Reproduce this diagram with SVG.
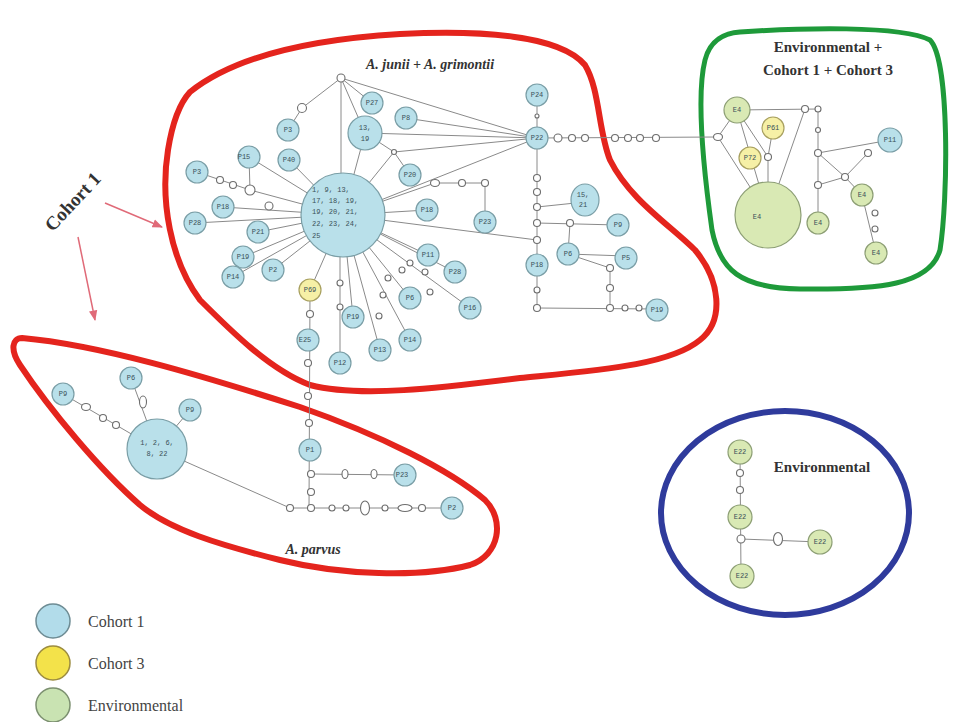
<svg xmlns="http://www.w3.org/2000/svg" width="954" height="722" viewBox="0 0 954 722">
<defs>
<marker id="ah" viewBox="0 0 10 10" refX="9" refY="5" markerWidth="7" markerHeight="7" orient="auto-start-reverse"><path d="M0,1 L10,5 L0,9 z" fill="#e06a78"/></marker>
<style>
.c1{fill:#b9e0ea;stroke:#7a9ea6;stroke-width:1.2}
.c3{fill:#f6f0a6;stroke:#a8a060;stroke-width:1.2}
.env{fill:#d9e9b4;stroke:#8c9e74;stroke-width:1.2}
.s{fill:#fff;stroke:#6e6e6e;stroke-width:1.1}
.e line{stroke:#8a8a8a;stroke-width:1}
.l{font-family:"Liberation Mono",monospace;font-size:7px;fill:#3a5058;text-anchor:middle;dominant-baseline:central}
.t{font-family:"Liberation Serif",serif;font-weight:bold;fill:#333;text-anchor:middle}
.lg{font-family:"Liberation Serif",serif;font-size:16px;fill:#444}
.red{fill:none;stroke:#e4241d;stroke-width:6}
</style>
</defs>
<rect width="954" height="722" fill="#fff"/>
<g id="outlines">
<path class="red" d="M190,92 C230,60 300,40 400,34 C480,30 560,35 585,65 C600,90 598,130 610,160 C630,200 670,225 695,250 C720,280 725,320 700,340 C670,365 600,370 520,378 C440,388 360,398 310,385 C270,370 230,330 200,300 C170,260 160,200 168,150 C172,125 178,105 190,92 Z"/>
<path class="red" d="M22,338 C100,345 200,375 300,407 C380,435 450,470 485,500 C505,520 500,555 470,565 C420,578 340,575 280,560 C220,545 170,530 140,505 C100,470 50,410 20,365 C10,350 12,338 22,338 Z"/>
<path fill="none" stroke="#1e9a3a" stroke-width="5" d="M740,32 C800,28 900,25 930,40 C950,60 948,200 940,250 C930,285 880,290 800,289 C740,288 720,270 712,230 C705,180 695,100 705,60 C710,40 725,33 740,32 Z"/>
<ellipse cx="785" cy="513" rx="124" ry="102" fill="none" stroke="#2f3b9c" stroke-width="6"/>
</g>
<g id="labels">
<text class="t" x="430" y="69" font-size="14" font-style="italic">A. junii + A. grimontii</text>
<text class="t" x="313" y="554" font-size="14" font-style="italic">A. parvus</text>
<text class="t" x="828" y="52" font-size="15">Environmental  +</text>
<text class="t" x="828" y="75" font-size="15">Cohort 1 + Cohort 3</text>
<text class="t" x="822" y="472" font-size="15">Environmental</text>
<text class="t" x="73" y="208" font-size="19" transform="rotate(-47 73 202)">Cohort 1</text>
</g>
<g id="arrows" stroke="#e06a78" stroke-width="1.5" fill="none">
<line x1="105" y1="203" x2="162" y2="227" marker-end="url(#ah)"/>
<line x1="78" y1="237" x2="95" y2="320" marker-end="url(#ah)"/>
</g>
<g id="connectors" class="e">
<line x1="341" y1="78" x2="302" y2="108"/><line x1="302" y1="108" x2="288" y2="130"/>
<line x1="341" y1="78" x2="341" y2="215"/><line x1="341" y1="78" x2="372" y2="103"/>
<line x1="341" y1="78" x2="365" y2="133"/><line x1="341" y1="78" x2="537" y2="138"/>
<line x1="406" y1="118" x2="537" y2="138"/><line x1="365" y1="133" x2="537" y2="138"/>
<line x1="394" y1="152" x2="537" y2="138"/><line x1="343" y1="215" x2="537" y2="138"/>
<line x1="365" y1="133" x2="394" y2="152"/><line x1="394" y1="152" x2="410" y2="175"/>
<line x1="394" y1="152" x2="343" y2="215"/><line x1="365" y1="133" x2="343" y2="215"/>
<line x1="289" y1="160" x2="343" y2="215"/><line x1="249" y1="157" x2="343" y2="215"/>
<line x1="249" y1="157" x2="250" y2="190"/>
<line x1="197" y1="172" x2="250" y2="190"/><line x1="250" y1="190" x2="343" y2="215"/>
<line x1="223" y1="207" x2="343" y2="215"/><line x1="195" y1="223" x2="343" y2="215"/>
<line x1="258" y1="232" x2="343" y2="215"/><line x1="243" y1="257" x2="343" y2="215"/>
<line x1="233" y1="277" x2="343" y2="215"/><line x1="273" y1="270" x2="343" y2="215"/>
<line x1="343" y1="215" x2="310" y2="290"/><line x1="310" y1="290" x2="309" y2="508"/>
<line x1="311" y1="474" x2="405" y2="475"/>
<line x1="157" y1="449" x2="290" y2="508"/><line x1="290" y1="508" x2="452" y2="508"/>
<line x1="343" y1="215" x2="427" y2="210"/>
<line x1="343" y1="215" x2="435" y2="183"/><line x1="435" y1="183" x2="485" y2="183"/><line x1="485" y1="183" x2="485" y2="222"/>
<line x1="343" y1="215" x2="537" y2="240"/>
<line x1="343" y1="215" x2="428" y2="255"/>
<line x1="343" y1="215" x2="455" y2="272"/>
<line x1="343" y1="215" x2="470" y2="308"/>
<line x1="343" y1="215" x2="410" y2="298"/>
<line x1="343" y1="215" x2="410" y2="340"/>
<line x1="343" y1="215" x2="380" y2="350"/>
<line x1="343" y1="215" x2="353" y2="317"/>
<line x1="340" y1="215" x2="340" y2="363"/>
<line x1="537" y1="95" x2="537" y2="308"/>
<line x1="537" y1="138" x2="718" y2="137"/>
<line x1="537" y1="207" x2="585" y2="202"/>
<line x1="537" y1="223" x2="618" y2="225"/>
<line x1="570" y1="223" x2="568" y2="254"/>
<line x1="568" y1="254" x2="626" y2="256"/>
<line x1="568" y1="254" x2="610" y2="268"/>
<line x1="610" y1="268" x2="610" y2="308"/>
<line x1="537" y1="308" x2="657" y2="309"/>
<line x1="63" y1="394" x2="157" y2="449"/>
<line x1="131" y1="378" x2="157" y2="449"/>
<line x1="190" y1="410" x2="157" y2="449"/>
<line x1="737" y1="110" x2="718" y2="137"/><line x1="718" y1="137" x2="768" y2="215"/>
<line x1="737" y1="110" x2="818" y2="109"/><line x1="805" y1="109" x2="768" y2="215"/>
<line x1="737" y1="110" x2="768" y2="215"/><line x1="737" y1="110" x2="768" y2="157"/>
<line x1="773" y1="128" x2="768" y2="157"/><line x1="768" y1="157" x2="768" y2="215"/>
<line x1="818" y1="109" x2="818" y2="223"/>
<line x1="818" y1="153" x2="890" y2="140"/>
<line x1="818" y1="153" x2="845" y2="177"/><line x1="868" y1="153" x2="845" y2="177"/>
<line x1="845" y1="177" x2="818" y2="185"/><line x1="845" y1="177" x2="862" y2="195"/>
<line x1="862" y1="195" x2="876" y2="253"/>
<line x1="740" y1="452" x2="741" y2="576"/>
<line x1="741" y1="539" x2="820" y2="542"/>
</g>
<g id="center"><circle class="c1" cx="343" cy="215" r="42"/>
<text class="l" style="text-anchor:start"><tspan x="312" y="190">1, 9, 13,</tspan><tspan x="312" y="201">17, 18, 19,</tspan><tspan x="312" y="212">19, 20, 21,</tspan><tspan x="312" y="224">22, 23, 24,</tspan><tspan x="312" y="236">25</tspan></text></g>
<g id="hub"><circle class="s" cx="341" cy="78" r="4"/></g>
<g id="s_a1"><circle class="s" cx="302" cy="108" r="4.5"/></g>
<g id="n_P3a"><circle class="c1" cx="288" cy="130" r="11"/><text class="l" x="288" y="130">P3</text></g>
<g id="n_P27"><circle class="c1" cx="372" cy="103" r="11"/><text class="l" x="372" y="103">P27</text></g>
<g id="n_13_19"><circle class="c1" cx="365" cy="133" r="17"/><text class="l"><tspan x="365" y="128">13,</tspan><tspan x="365" y="139">19</tspan></text></g>
<g id="n_P8"><circle class="c1" cx="406" cy="118" r="11"/><text class="l" x="406" y="118">P8</text></g>
<g id="n_P20"><circle class="c1" cx="410" cy="175" r="11"/><text class="l" x="410" y="175">P20</text></g>
<g id="s_j1"><circle class="s" cx="394" cy="152" r="2.5"/></g>
<g id="n_P40"><circle class="c1" cx="289" cy="160" r="11"/><text class="l" x="289" y="160">P40</text></g>
<g id="n_P15"><circle class="c1" cx="249" cy="157" r="11"/><text class="l" x="244" y="157">P15</text></g>
<g id="n_P3b"><circle class="c1" cx="197" cy="172" r="11"/><text class="l" x="197" y="172">P3</text></g>
<g id="s_a2"><circle class="s" cx="220" cy="180" r="3.5"/></g>
<g id="s_a3"><circle class="s" cx="233" cy="185" r="3.5"/></g>
<g id="s_a4"><circle class="s" cx="250" cy="190" r="5"/></g>
<g id="n_P18a"><circle class="c1" cx="223" cy="207" r="11"/><text class="l" x="223" y="207">P18</text></g>
<g id="s_a5"><circle class="s" cx="269" cy="206" r="4"/></g>
<g id="n_P28a"><circle class="c1" cx="195" cy="223" r="11"/><text class="l" x="195" y="223">P28</text></g>
<g id="n_P21"><circle class="c1" cx="258" cy="232" r="11"/><text class="l" x="258" y="232">P21</text></g>
<g id="n_P19a"><circle class="c1" cx="243" cy="257" r="11"/><text class="l" x="243" y="257">P19</text></g>
<g id="n_P14a"><circle class="c1" cx="233" cy="277" r="11"/><text class="l" x="233" y="277">P14</text></g>
<g id="n_P2a"><circle class="c1" cx="273" cy="270" r="11"/><text class="l" x="273" y="270">P2</text></g>
<g id="n_P69"><circle class="c3" cx="310" cy="290" r="11"/><text class="l" x="310" y="290">P69</text></g>
<g id="s_b1"><circle class="s" cx="310" cy="314" r="3.5"/></g>
<g id="n_E25"><circle class="c1" cx="308" cy="340" r="11"/><text class="l" x="305" y="340">E25</text></g>
<g id="s_b2"><circle class="s" cx="308" cy="363" r="3.5"/></g>
<g id="s_b3"><circle class="s" cx="308" cy="396" r="3.5"/></g>
<g id="s_b4"><circle class="s" cx="309" cy="423" r="3.5"/></g>
<g id="n_P1"><circle class="c1" cx="310" cy="450" r="11"/><text class="l" x="310" y="450">P1</text></g>
<g id="s_b5"><circle class="s" cx="311" cy="474" r="3.5"/></g>
<g id="s_b6"><ellipse class="s" cx="345" cy="474" rx="3" ry="4.5"/></g>
<g id="s_b7"><ellipse class="s" cx="374" cy="474" rx="3" ry="4.5"/></g>
<g id="n_P23b"><circle class="c1" cx="405" cy="475" r="11"/><text class="l" x="402" y="475">P23</text></g>
<g id="s_b8"><circle class="s" cx="311" cy="492" r="3.5"/></g>
<g id="s_b9"><circle class="s" cx="311" cy="508" r="3.5"/></g>
<g id="s_b10"><circle class="s" cx="290" cy="508" r="3.5"/></g>
<g id="s_b11"><circle class="s" cx="332" cy="508" r="3"/></g>
<g id="s_b12"><circle class="s" cx="346" cy="508" r="3"/></g>
<g id="s_b13"><ellipse class="s" cx="365" cy="508" rx="4.5" ry="7"/></g>
<g id="s_b14"><circle class="s" cx="385" cy="508" r="3"/></g>
<g id="s_b15"><ellipse class="s" cx="405" cy="508" rx="7" ry="3.5"/></g>
<g id="s_b16"><circle class="s" cx="422" cy="508" r="3.5"/></g>
<g id="n_P2b"><circle class="c1" cx="452" cy="508" r="11"/><text class="l" x="452" y="508">P2</text></g>
<g id="n_P18b"><circle class="c1" cx="427" cy="210" r="11"/><text class="l" x="427" y="210">P18</text></g>
<g id="s_c1"><ellipse class="s" cx="435" cy="183" rx="4.5" ry="3.5"/></g>
<g id="s_c2"><circle class="s" cx="462" cy="183" r="3.5"/></g>
<g id="s_c3"><circle class="s" cx="485" cy="183" r="3.5"/></g>
<g id="n_P23a"><circle class="c1" cx="485" cy="222" r="11"/><text class="l" x="485" y="222">P23</text></g>
<g id="n_P11a"><circle class="c1" cx="428" cy="255" r="11"/><text class="l" x="428" y="255">P11</text></g>
<g id="s_c4"><circle class="s" cx="410" cy="263" r="3"/></g>
<g id="s_c5"><circle class="s" cx="425" cy="272" r="3"/></g>
<g id="n_P28b"><circle class="c1" cx="455" cy="272" r="11"/><text class="l" x="455" y="272">P28</text></g>
<g id="s_c6"><circle class="s" cx="402" cy="270" r="3"/></g>
<g id="s_c7"><circle class="s" cx="430" cy="292" r="3"/></g>
<g id="n_P16"><circle class="c1" cx="470" cy="308" r="11"/><text class="l" x="470" y="308">P16</text></g>
<g id="s_c8"><circle class="s" cx="388" cy="278" r="3"/></g>
<g id="n_P6a"><circle class="c1" cx="410" cy="298" r="11"/><text class="l" x="410" y="298">P6</text></g>
<g id="s_c9"><circle class="s" cx="383" cy="295" r="3"/></g>
<g id="n_P14b"><circle class="c1" cx="410" cy="340" r="11"/><text class="l" x="410" y="340">P14</text></g>
<g id="s_c10"><circle class="s" cx="379" cy="316" r="3"/></g>
<g id="n_P13"><circle class="c1" cx="380" cy="350" r="11"/><text class="l" x="380" y="350">P13</text></g>
<g id="n_P19b"><circle class="c1" cx="353" cy="317" r="11"/><text class="l" x="353" y="317">P19</text></g>
<g id="s_c11"><circle class="s" cx="340" cy="283" r="3"/></g>
<g id="s_c12"><circle class="s" cx="340" cy="307" r="3"/></g>
<g id="n_P12"><circle class="c1" cx="340" cy="363" r="11"/><text class="l" x="340" y="363">P12</text></g>
<g id="n_P22"><circle class="c1" cx="537" cy="138" r="11"/><text class="l" x="537" y="138">P22</text></g>
<g id="n_P24"><circle class="c1" cx="537" cy="95" r="11"/><text class="l" x="537" y="95">P24</text></g>
<g id="s_d0"><circle class="s" cx="537" cy="116" r="2"/></g>
<g id="s_d1"><circle class="s" cx="558" cy="138" r="4"/></g>
<g id="s_d2"><circle class="s" cx="572" cy="138" r="3.5"/></g>
<g id="s_d3"><circle class="s" cx="585" cy="138" r="3.5"/></g>
<g id="s_d4"><circle class="s" cx="615" cy="138" r="3.5"/></g>
<g id="s_d5"><circle class="s" cx="628" cy="138" r="3.5"/></g>
<g id="s_d6"><circle class="s" cx="640" cy="138" r="3.5"/></g>
<g id="s_d7"><circle class="s" cx="656" cy="138" r="3.5"/></g>
<g id="s_d8"><circle class="s" cx="537" cy="178" r="3.5"/></g>
<g id="s_d9"><circle class="s" cx="537" cy="192" r="3.5"/></g>
<g id="s_d10"><circle class="s" cx="537" cy="207" r="3.5"/></g>
<g id="n_15_21"><ellipse class="c1" cx="585" cy="200" rx="14" ry="16"/><text class="l"><tspan x="583" y="195">15,</tspan><tspan x="583" y="205">21</tspan></text></g>
<g id="s_d11"><circle class="s" cx="537" cy="223" r="3.5"/></g>
<g id="s_d12"><circle class="s" cx="570" cy="223" r="3.5"/></g>
<g id="n_P9a"><circle class="c1" cx="618" cy="225" r="11"/><text class="l" x="618" y="225">P9</text></g>
<g id="s_d13"><circle class="s" cx="537" cy="240" r="3.5"/></g>
<g id="n_P18c"><circle class="c1" cx="537" cy="265" r="11"/><text class="l" x="537" y="265">P18</text></g>
<g id="n_P6b"><circle class="c1" cx="568" cy="254" r="11"/><text class="l" x="568" y="254">P6</text></g>
<g id="n_P5"><circle class="c1" cx="626" cy="258" r="11"/><text class="l" x="626" y="258">P5</text></g>
<g id="s_d14"><circle class="s" cx="610" cy="268" r="3.5"/></g>
<g id="s_d15"><circle class="s" cx="610" cy="288" r="3.5"/></g>
<g id="s_d16"><circle class="s" cx="537" cy="290" r="3"/></g>
<g id="s_d17"><circle class="s" cx="537" cy="308" r="3.5"/></g>
<g id="s_d18"><circle class="s" cx="610" cy="308" r="3.5"/></g>
<g id="s_d19"><circle class="s" cx="625" cy="308" r="3"/></g>
<g id="s_d20"><circle class="s" cx="639" cy="308" r="3"/></g>
<g id="n_P19c"><circle class="c1" cx="657" cy="310" r="11"/><text class="l" x="657" y="310">P19</text></g>
<g id="n_P9c"><circle class="c1" cx="63" cy="394" r="11"/><text class="l" x="63" y="394">P9</text></g>
<g id="s_e1"><ellipse class="s" cx="86" cy="407" rx="4.5" ry="3.5"/></g>
<g id="s_e2"><circle class="s" cx="103" cy="418" r="3.5"/></g>
<g id="s_e3"><circle class="s" cx="116" cy="425" r="3.5"/></g>
<g id="n_parvus"><circle class="c1" cx="157" cy="449" r="30"/><text class="l"><tspan x="157" y="443">1, 2, 6,</tspan><tspan x="157" y="454">8, 22</tspan></text></g>
<g id="n_P6c"><circle class="c1" cx="131" cy="378" r="11"/><text class="l" x="131" y="378">P6</text></g>
<g id="s_e4"><ellipse class="s" cx="143" cy="402" rx="3.5" ry="6"/></g>
<g id="n_P9d"><circle class="c1" cx="190" cy="410" r="11"/><text class="l" x="190" y="410">P9</text></g>
<g id="n_E4a"><circle class="env" cx="737" cy="110" r="13"/><text class="l" x="737" y="110">E4</text></g>
<g id="n_P61"><circle class="c3" cx="773" cy="128" r="11"/><text class="l" x="773" y="128">P61</text></g>
<g id="n_P72"><circle class="c3" cx="750" cy="158" r="11"/><text class="l" x="750" y="158">P72</text></g>
<g id="n_E4big"><circle class="env" cx="768" cy="215" r="33"/><text class="l" x="757" y="217">E4</text></g>
<g id="s_g1"><ellipse class="s" cx="718" cy="137" rx="4.5" ry="3.5"/></g>
<g id="s_g2"><circle class="s" cx="805" cy="109" r="3.5"/></g>
<g id="s_g3"><circle class="s" cx="818" cy="109" r="3"/></g>
<g id="s_g4"><circle class="s" cx="818" cy="130" r="2.5"/></g>
<g id="s_g5"><circle class="s" cx="768" cy="157" r="3.5"/></g>
<g id="s_g6"><circle class="s" cx="818" cy="153" r="3.5"/></g>
<g id="s_g7"><circle class="s" cx="868" cy="153" r="3.5"/></g>
<g id="n_P11g"><circle class="c1" cx="890" cy="140" r="12"/><text class="l" x="890" y="140">P11</text></g>
<g id="s_g8"><circle class="s" cx="845" cy="177" r="3.5"/></g>
<g id="s_g9"><circle class="s" cx="818" cy="185" r="3.5"/></g>
<g id="n_E4c"><circle class="env" cx="818" cy="223" r="11"/><text class="l" x="818" y="223">E4</text></g>
<g id="n_E4d"><circle class="env" cx="862" cy="195" r="11"/><text class="l" x="862" y="195">E4</text></g>
<g id="s_g10"><circle class="s" cx="875" cy="213" r="3"/></g>
<g id="s_g11"><circle class="s" cx="875" cy="229" r="3"/></g>
<g id="n_E4e"><circle class="env" cx="876" cy="253" r="11"/><text class="l" x="876" y="253">E4</text></g>
<g id="n_E22a"><circle class="env" cx="740" cy="452" r="12"/><text class="l" x="740" y="452">E22</text></g>
<g id="s_h1"><circle class="s" cx="740" cy="473" r="3.5"/></g>
<g id="s_h2"><circle class="s" cx="740" cy="490" r="3.5"/></g>
<g id="n_E22b"><circle class="env" cx="740" cy="517" r="12"/><text class="l" x="740" y="517">E22</text></g>
<g id="s_h3"><circle class="s" cx="741" cy="539" r="4"/></g>
<g id="s_h4"><ellipse class="s" cx="778" cy="539" rx="4.5" ry="6.5"/></g>
<g id="n_E22c"><circle class="env" cx="820" cy="542" r="12"/><text class="l" x="820" y="542">E22</text></g>
<g id="n_E22d"><circle class="env" cx="742" cy="576" r="12"/><text class="l" x="742" y="576">E22</text></g>
<g id="legend">
<circle cx="53" cy="621" r="17" fill="#b2dcea" stroke="#6e8c94" stroke-width="1.5"/>
<circle cx="53" cy="663" r="17" fill="#f3e24a" stroke="#9c8c40" stroke-width="1.5"/>
<circle cx="53" cy="705" r="17" fill="#c9e3b2" stroke="#7c9070" stroke-width="1.5"/>
<text class="lg" x="88" y="627">Cohort 1</text>
<text class="lg" x="88" y="669">Cohort 3</text>
<text class="lg" x="88" y="711">Environmental</text>
</g>
</svg>
